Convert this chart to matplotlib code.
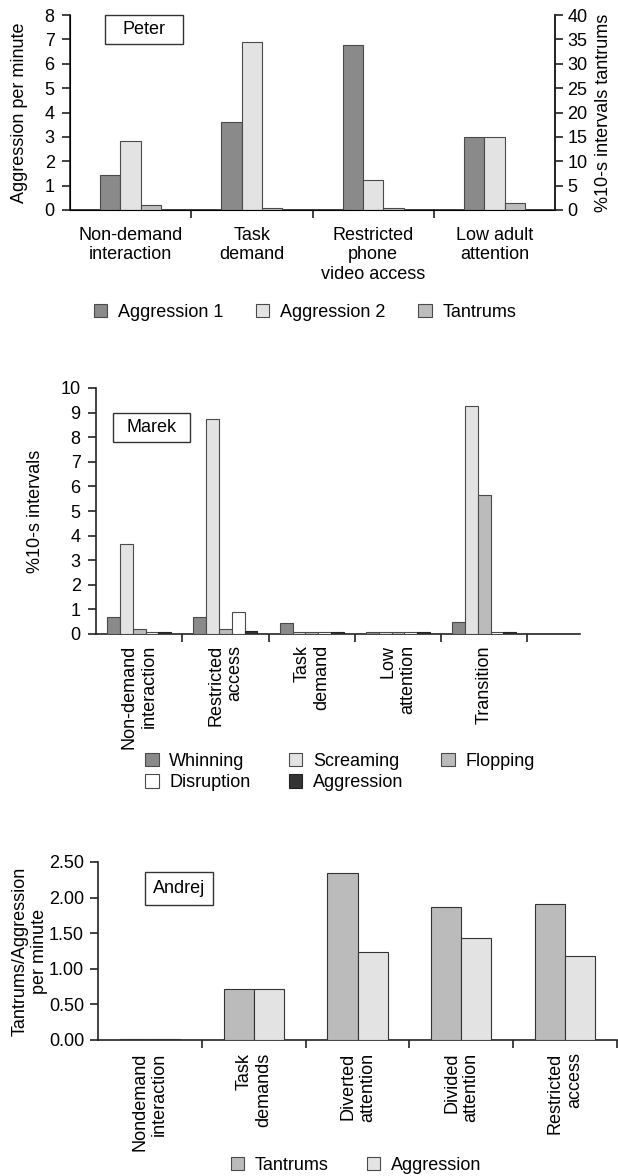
import matplotlib
matplotlib.use("Agg")
import matplotlib.pyplot as plt
import numpy as np
from matplotlib.patches import Patch, Rectangle

plt.rcParams['font.family'] = ['Liberation Sans', 'DejaVu Sans']
plt.rcParams['font.size'] = 13

# ---------- Data ----------
peter_categories = ["Non-demand\ninteraction", "Task\ndemand", "Restricted\nphone\nvideo access", "Low adult\nattention"]
peter_aggression1 = [1.45, 3.62, 6.78, 3.0]
peter_aggression2 = [2.84, 6.88, 1.22, 3.0]
peter_tantrums_pct = [1.0, 0.5, 0.5, 1.4]

marek_categories = ["Non-demand\ninteraction", "Restricted\naccess", "Task\ndemand", "Low\nattention", "Transition"]
marek_whinning = [0.68, 0.68, 0.44, 0.08, 0.50]
marek_screaming = [3.66, 8.72, 0.08, 0.08, 9.25]
marek_flopping = [0.20, 0.20, 0.08, 0.08, 5.65]
marek_disruption = [0.08, 0.88, 0.08, 0.08, 0.08]
marek_aggression = [0.10, 0.13, 0.10, 0.10, 0.10]

andrej_categories = ["Nondemand\ninteraction", "Task\ndemands", "Diverted\nattention", "Divided\nattention", "Restricted\naccess"]
andrej_tantrums = [0.015, 0.72, 2.34, 1.87, 1.91]
andrej_aggression = [0.015, 0.72, 1.24, 1.43, 1.18]

EDGE = '#4a4a4a'
SPINE = '#222222'
FS = 13
W, H = 618, 1176

fig = plt.figure(figsize=(6.18, 11.76), dpi=100)


def rect(l, r, t, b):
    return [l / W, 1 - b / H, (r - l) / W, (b - t) / H]


def style_axis(ax, nticks, right=False):
    ax.spines['top'].set_visible(False)
    if not right:
        ax.spines['right'].set_visible(False)
    for s in ['left', 'bottom', 'right']:
        ax.spines[s].set_color(SPINE)
        ax.spines[s].set_linewidth(1.2)
    ax.set_xticks(np.arange(nticks) + 0.5)
    ax.set_xticklabels([])
    ax.tick_params(axis='x', which='major', direction='out', length=6, width=1.2, color=SPINE)
    ax.tick_params(axis='y', direction='out', length=6, width=1.2, color=SPINE, pad=5, labelsize=FS)


def label_box(ax, x0, y0, w, h, text):
    ax.add_patch(Rectangle((x0, y0), w, h, transform=ax.transAxes, fc='white', ec='#333333',
                           lw=1.0, zorder=5, clip_on=False))
    ax.text(x0 + w / 2, y0 + h / 2, text, transform=ax.transAxes, ha='center', va='center',
            fontsize=FS, zorder=6)


def mk(c):
    return Patch(fc=c, ec=EDGE if c != '#333333' else '#222222', lw=0.8)


# ---------- Peter ----------
ax1 = fig.add_axes(rect(70, 555, 15, 210))
x = np.arange(len(peter_categories))
w = 0.168
ax1.bar(x - w, peter_aggression1, w, color='#8a8a8a', edgecolor=EDGE, lw=0.8, zorder=3)
ax1.bar(x, peter_aggression2, w, color='#e3e3e3', edgecolor=EDGE, lw=0.8, zorder=3)
ax1.set_ylim(0, 8)
ax1.set_yticks(range(0, 9))
style_axis(ax1, len(peter_categories) - 1, right=True)
ax1.set_xlim(-0.5, len(peter_categories) - 0.5)
ax1.set_xticks(x, minor=True)
ax1.set_xticklabels(peter_categories, minor=True, linespacing=1.2)
ax1.tick_params(axis='x', which='minor', length=0, pad=12, labelsize=FS)
ax1.set_ylabel("Aggression per minute", fontsize=FS)
ax1.yaxis.set_label_coords(-0.087, 0.5)
ax1b = ax1.twinx()
ax1b.bar(x + w, peter_tantrums_pct, w, color='#bdbdbd', edgecolor=EDGE, lw=0.8, zorder=3)
ax1b.set_ylim(0, 40)
ax1b.set_yticks(range(0, 41, 5))
ax1b.spines['top'].set_visible(False)
ax1b.spines['right'].set_color(SPINE)
ax1b.spines['right'].set_linewidth(1.2)
ax1b.tick_params(axis='y', direction='out', length=6, width=1.2, color=SPINE, labelsize=FS, pad=3)
ax1b.set_ylabel("%10-s intervals tantrums", fontsize=FS, rotation=90)
ax1b.yaxis.set_label_coords(1.082, 0.5)
label_box(ax1, 0.072, 0.851, 0.161, 0.149, "Peter")
fig.legend([mk('#8a8a8a'), mk('#e3e3e3'), mk('#bdbdbd')], ["Aggression 1", "Aggression 2", "Tantrums"],
           loc='center', ncol=3, bbox_to_anchor=(305 / W, 1 - 312 / H), frameon=False, fontsize=FS,
           handlelength=0.75, handleheight=0.75, handletextpad=0.6, columnspacing=1.8)

# ---------- Marek ----------
ax2 = fig.add_axes(rect(96, 580, 388, 634))
xm = np.arange(len(marek_categories))
wm = 0.148
series = [(marek_whinning, '#8a8a8a'), (marek_screaming, '#e3e3e3'), (marek_flopping, '#bbbbbb'),
          (marek_disruption, 'white'), (marek_aggression, '#333333')]
for i, (vals, col) in enumerate(series):
    ax2.bar(xm + (i - 2) * wm, vals, wm, color=col, edgecolor=EDGE if col != '#333333' else '#222222',
            lw=0.8, zorder=3)
ax2.set_ylim(0, 10)
ax2.set_yticks(range(0, 11))
style_axis(ax2, len(marek_categories))
ax2.set_xlim(-0.5, 5.11)
ax2.set_xticks(xm, minor=True)
ax2.set_xticklabels(marek_categories, minor=True, rotation=90, va='top', ha='center',
                    multialignment='right', linespacing=1.2)
ax2.tick_params(axis='x', which='minor', length=0, pad=8, labelsize=FS)
ax2.set_ylabel("%10-s intervals", fontsize=FS)
ax2.yaxis.set_label_coords(-0.107, 0.5)
label_box(ax2, 0.035, 0.780, 0.159, 0.118, "Marek")
names2 = ["Whinning", "Screaming", "Flopping", "Disruption", "Aggression"]
h2 = [mk(c) for _, c in series]
order = [0, 3, 1, 4, 2]
fig.legend([h2[i] for i in order], [names2[i] for i in order], loc='center', ncol=3,
           bbox_to_anchor=(340 / W, 1 - 772 / H), frameon=False, fontsize=FS,
           handlelength=0.75, handleheight=0.75, handletextpad=0.6, columnspacing=2.1,
           labelspacing=0.25)

# ---------- Andrej ----------
ax3 = fig.add_axes(rect(98, 617, 862, 1040))
xa = np.arange(len(andrej_categories))
wa = 0.29
ax3.bar(xa - wa / 2, andrej_tantrums, wa, color='#bbbbbb', edgecolor='#333333', lw=0.8, zorder=3)
ax3.bar(xa + wa / 2, andrej_aggression, wa, color='#e3e3e3', edgecolor='#333333', lw=0.8, zorder=3)
ax3.set_ylim(0, 2.5)
yt = np.arange(0, 2.51, 0.5)
ax3.set_yticks(yt)
ax3.set_yticklabels([f"{v:.2f}" for v in yt])
style_axis(ax3, len(andrej_categories))
ax3.set_xlim(-0.5, 4.5)
ax3.set_xticks(xa, minor=True)
ax3.set_xticklabels(andrej_categories, minor=True, rotation=90, va='top', ha='center',
                    multialignment='right', linespacing=1.2)
ax3.tick_params(axis='x', which='minor', length=0, pad=9, labelsize=FS)
ax3.tick_params(axis='y', pad=4)
ax3.set_ylabel("Tantrums/Aggression\nper minute", fontsize=FS, linespacing=1.2)
ax3.yaxis.set_label_coords(-0.096, 0.5)
label_box(ax3, 0.0906, 0.758, 0.131, 0.185, "Andrej")
fig.legend([mk('#bbbbbb'), mk('#e3e3e3')], ["Tantrums", "Aggression"], loc='center', ncol=2,
           bbox_to_anchor=(356 / W, 1 - 1165 / H), frameon=False, fontsize=FS,
           handlelength=0.75, handleheight=0.75, handletextpad=0.6, columnspacing=2.1)

fig.savefig("out.png", dpi=100, facecolor='white')
